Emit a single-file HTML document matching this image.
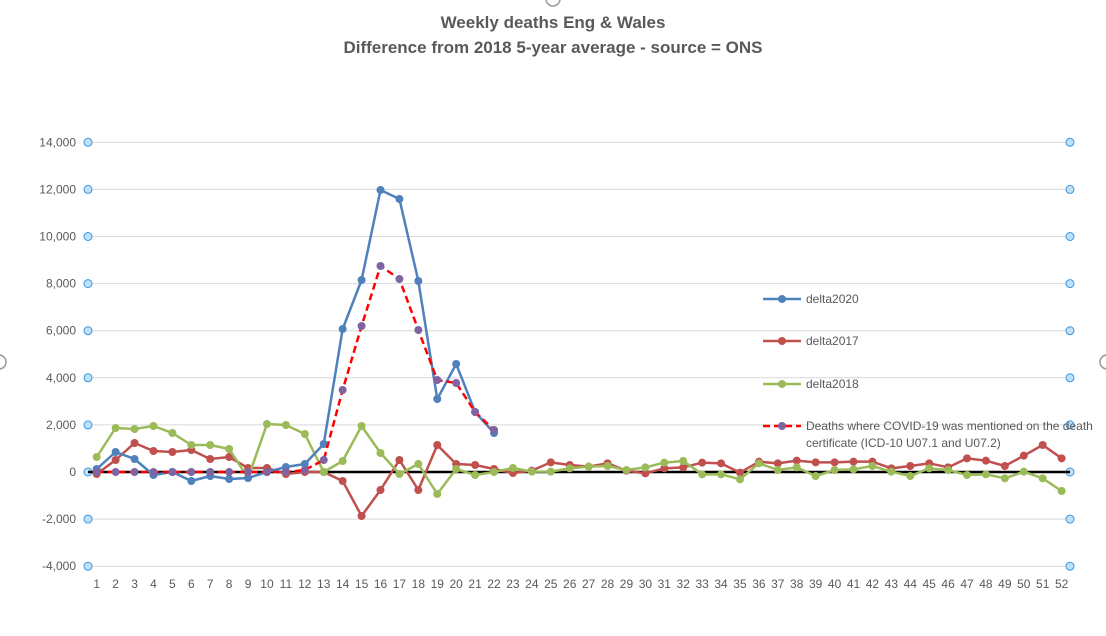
<!DOCTYPE html>
<html><head><meta charset="utf-8"><style>
body{margin:0;background:#fff;width:1106px;height:631px;overflow:hidden;font-family:"Liberation Sans",sans-serif}
</style></head><body>
<svg id="s" width="1106" height="631" xmlns="http://www.w3.org/2000/svg" font-family="Liberation Sans, sans-serif">
<rect width="1106" height="631" fill="#fff"/>
<text x="553" y="28" text-anchor="middle" font-size="17" font-weight="bold" fill="#595959">Weekly deaths Eng &amp; Wales</text>
<text x="553" y="53" text-anchor="middle" font-size="17" font-weight="bold" fill="#595959">Difference from 2018 5-year average - source = ONS</text>
<circle cx="553" cy="-1" r="7" fill="#fff" stroke="#999" stroke-width="1.5"/>
<circle cx="-1" cy="362" r="7" fill="#fff" stroke="#999" stroke-width="1.5"/>
<circle cx="1107" cy="362" r="7" fill="#fff" stroke="#999" stroke-width="1.5"/>
<g id="g"></g>
</svg>
<script>
const g=document.getElementById('g');let h='';
const X=i=>96.7+(i-1)*18.92;
const yv=v=>472-v/2000*47.1;
for(let v=-4000;v<=14000;v+=2000){const y=yv(v);
 if(v!==0)h+=`<line x1="88" x2="1070" y1="${y}" y2="${y}" stroke="#d9d9d9" stroke-width="1"/>`;
 h+=`<text x="76" y="${y+4}" text-anchor="end" font-size="12" fill="#595959">${v.toLocaleString('en-US')}</text>`;
 h+=`<circle cx="88" cy="${y}" r="4" fill="#bfe0f7" stroke="#3a97e0" stroke-width="1"/><circle cx="1070" cy="${y}" r="4" fill="#bfe0f7" stroke="#3a97e0" stroke-width="1"/>`;}
h+=`<line x1="88" x2="1070" y1="472" y2="472" stroke="#000" stroke-width="2.5"/>`;
for(let i=1;i<=52;i++)h+=`<text x="${X(i)}" y="588" text-anchor="middle" font-size="12" fill="#595959">${i}</text>`;
const z=a=>a.map(v=>380+v/3);
const d2020=[469,452,459,475,472,481,476,479,478,472,467,464,444,329,280,190,199,281,399,364,412,433];
const cov=[472,472,472,472,472,472,472,472,472,472,472,470,460,390,326,266,279,330,380,383,412,430];
const d2017=[474,460,443,451,452,450,459,457,468,468,474,472,472,481,516,490,460,490,445,464,465,469,473].concat(z([272,247,255,260,250,272,280,265,262,248,250,278,245,250,242,247,247,245,245,265,258,250,262,235,242,258,227,195,235]));
const d2018=[457,428,429,426,433,445,445,449,478,424,425,434,472,461,426,453,474,464,494,469,475,472,468].concat(z([275,275,265,260,258,270,262,248,243,283,283,298,250,270,262,288,270,268,258,275,288,265,270,285,283,295,275,295,333]));
function ser(a,c,mc,dash){const p=a.map((y,i)=>X(i+1)+','+y).join(' ');
 let s=`<polyline points="${p}" fill="none" stroke="${c}" stroke-width="2.5" ${dash?'stroke-dasharray="7,4"':''} stroke-linejoin="round"/>`;
 a.forEach((y,i)=>s+=`<circle cx="${X(i+1)}" cy="${y}" r="4" fill="${mc}"/>`);return s;}
h+=ser(d2017,'#c0504d','#c0504d');
h+=ser(d2018,'#9bbb59','#9bbb59');
h+=ser(d2020,'#4f81bd','#4f81bd');
h+=ser(cov,'#ff0000','#8064a2',true);
function leg(y,c,mc,t,dash){return `<line x1="763" x2="801" y1="${y}" y2="${y}" stroke="${c}" stroke-width="2.5" ${dash?'stroke-dasharray="7,4"':''}/><circle cx="782" cy="${y}" r="4" fill="${mc}"/><text x="806" y="${y+4}" font-size="12" fill="#595959">${t}</text>`;}
h+=leg(299,'#4f81bd','#4f81bd','delta2020');
h+=leg(341,'#c0504d','#c0504d','delta2017');
h+=leg(384,'#9bbb59','#9bbb59','delta2018');
h+=leg(426,'#ff0000','#8064a2','Deaths where COVID-19 was mentioned on the death',true);
h+=`<text x="806" y="447" font-size="12" fill="#595959">certificate (ICD-10 U07.1 and U07.2)</text>`;
g.innerHTML=h;
</script>
</body></html>
